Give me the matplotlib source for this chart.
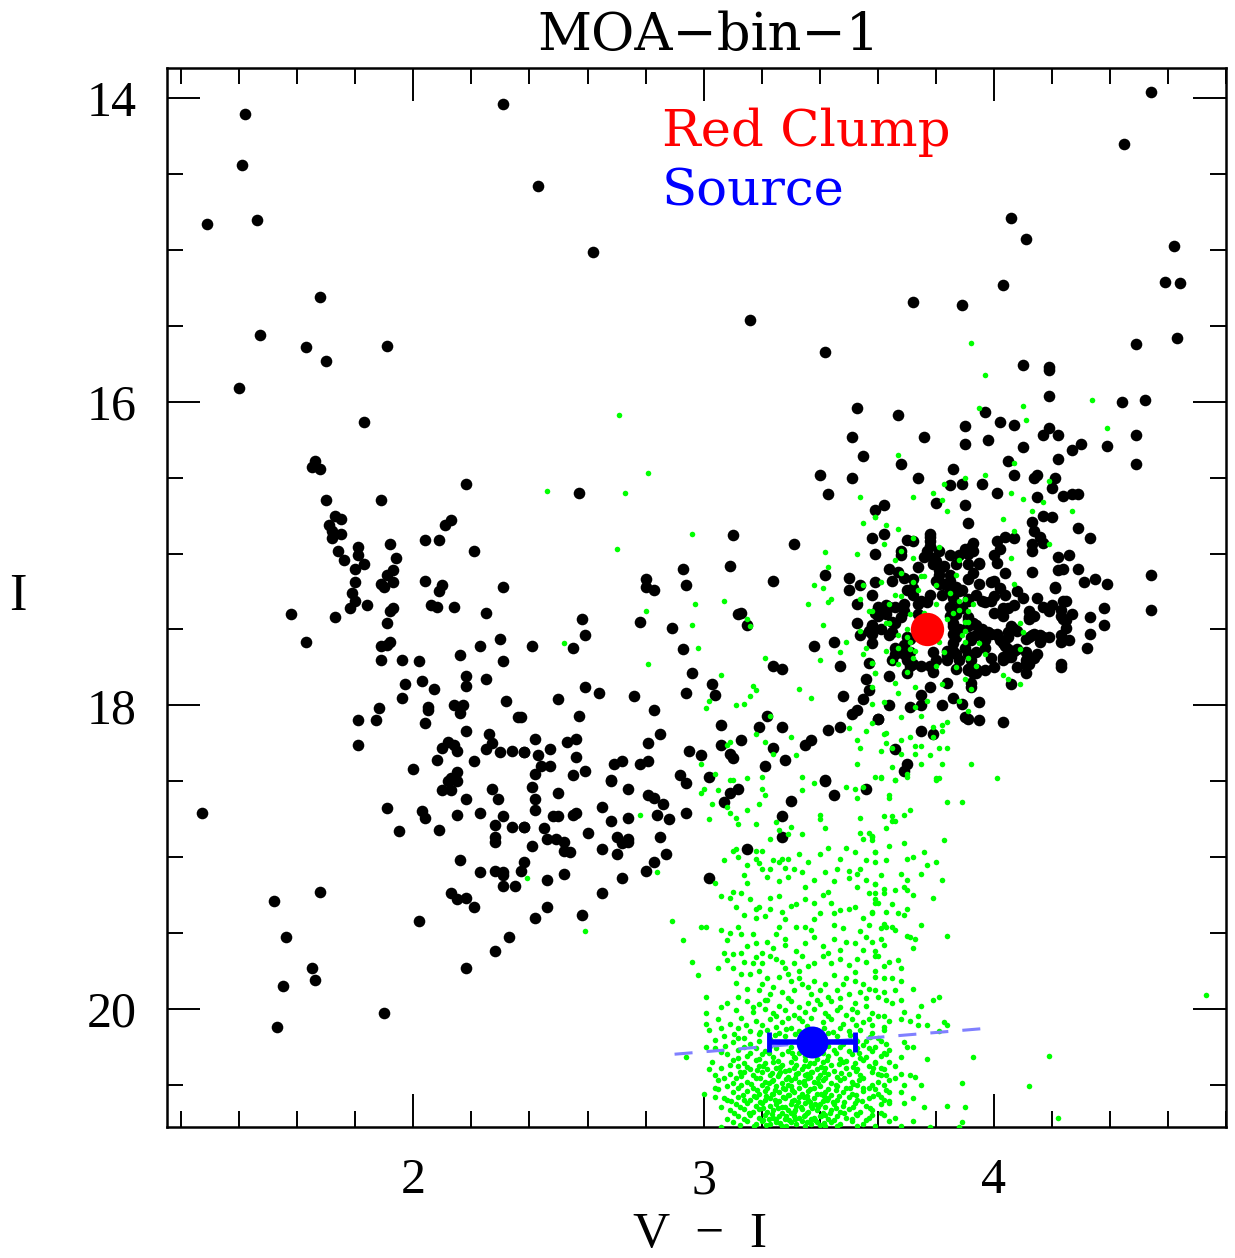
import matplotlib
matplotlib.use("Agg")
import matplotlib.pyplot as plt
from matplotlib.ticker import MultipleLocator
import numpy as np

# ---------------------------------------------------------------
# Ground-based field stars: (V-I, I)
# ---------------------------------------------------------------
field_top = [
    (1.42, 14.10), (2.31, 14.04), (1.41, 14.44), (1.29, 14.83), (1.46, 14.80), (1.68, 15.31),
    (1.47, 15.56), (1.63, 15.64), (1.70, 15.73), (1.91, 15.63), (1.40, 15.91), (1.83, 16.13),
    (2.43, 14.58), (2.62, 15.01), (3.16, 15.46), (3.42, 15.67), (3.53, 16.04),
    (4.54, 13.96), (4.45, 14.30), (4.06, 14.79), (4.11, 14.93), (4.62, 14.97), (4.59, 15.21),
    (4.64, 15.22), (4.03, 15.23), (3.72, 15.34), (3.89, 15.36), (4.63, 15.58), (4.49, 15.62),
    (4.10, 15.76), (4.19, 15.77), (4.19, 15.79), (4.19, 15.96), (4.44, 16.00), (4.52, 15.99),
    (3.67, 16.09), (3.97, 16.07), (4.02, 16.13), (4.07, 16.15), (3.90, 16.16), (4.19, 16.17),
]

field_disk = [
    (1.66, 16.39), (1.65, 16.43), (1.68, 16.44), (1.70, 16.65), (1.89, 16.65), (2.18, 16.54),
    (1.73, 16.75), (1.75, 16.77), (1.71, 16.81), (1.72, 16.85), (1.75, 16.87), (1.72, 16.90),
    (2.11, 16.81), (2.13, 16.78), (2.04, 16.91), (2.09, 16.91), (1.74, 16.98), (1.81, 16.96),
    (1.92, 16.94), (1.76, 17.04), (1.81, 17.01), (1.83, 17.07), (1.94, 17.03), (2.21, 16.98),
    (1.80, 17.10), (1.93, 17.11), (1.91, 17.14), (1.80, 17.19), (1.89, 17.20), (1.90, 17.22),
    (1.93, 17.19), (2.04, 17.18), (2.10, 17.21), (2.09, 17.25), (2.31, 17.22), (1.79, 17.26),
    (1.80, 17.31), (1.78, 17.36), (1.84, 17.34), (1.93, 17.36), (1.92, 17.38), (2.06, 17.34),
    (2.08, 17.35), (2.14, 17.35), (2.25, 17.39), (1.58, 17.40), (1.73, 17.42), (1.91, 17.46),
    (1.63, 17.58), (1.89, 17.61), (1.91, 17.60), (1.92, 17.58), (2.30, 17.56), (2.23, 17.61),
    (2.16, 17.67), (1.89, 17.70), (1.96, 17.70), (2.02, 17.71), (2.31, 17.71), (2.18, 17.81),
    (2.18, 17.87), (1.97, 17.86), (2.03, 17.84), (2.07, 17.89), (2.25, 17.83), (1.96, 17.95),
    (2.32, 17.97), (1.88, 18.02), (2.05, 18.01), (2.05, 18.03), (2.14, 18.00), (2.17, 18.00),
    (2.16, 18.05), (2.36, 18.08), (1.81, 18.10), (1.87, 18.10), (2.04, 18.12), (2.18, 18.17),
    (2.26, 18.19), (2.27, 18.25), (1.81, 18.26), (2.12, 18.24), (2.14, 18.26), (2.10, 18.28),
    (2.15, 18.30), (2.25, 18.29), (2.30, 18.31), (2.34, 18.30), (2.38, 18.31), (2.08, 18.36),
    (2.21, 18.37), (2.00, 18.42), (2.15, 18.44), (2.13, 18.48), (2.14, 18.48),
    (2.12, 18.50), (2.15, 18.50), (2.10, 18.56), (2.13, 18.56), (2.27, 18.55), (2.29, 18.62),
    (2.18, 18.62), (1.27, 18.71), (1.91, 18.68), (2.03, 18.70), (2.04, 18.74), (2.15, 18.72),
    (2.23, 18.71), (2.31, 18.73), (1.95, 18.83), (2.09, 18.82), (2.28, 18.79), (2.34, 18.80),
    (2.38, 18.80), (2.28, 18.87), (2.28, 18.90), (2.16, 19.02), (2.38, 19.03), (2.23, 19.10),
    (2.28, 19.09), (2.31, 19.10), (2.37, 19.09), (2.31, 19.12), (2.31, 19.19), (2.35, 19.19),
    (2.13, 19.24), (2.15, 19.28), (2.18, 19.27), (2.21, 19.33), (1.52, 19.29), (1.68, 19.23),
    (2.02, 19.42), (1.56, 19.53), (2.33, 19.53), (2.28, 19.62), (2.18, 19.73), (1.65, 19.73),
    (1.66, 19.81), (1.55, 19.85), (1.90, 20.03), (1.53, 20.12),
]

field_mid = [
    (3.51, 16.23), (3.55, 16.36), (3.40, 16.48), (3.51, 16.50), (3.43, 16.61), (2.57, 16.60),
    (3.59, 16.71), (3.10, 16.88), (3.31, 16.94), (3.58, 16.90), (3.59, 17.00), (3.09, 17.08),
    (2.93, 17.10), (2.80, 17.17), (2.80, 17.22), (2.83, 17.24), (2.94, 17.21), (3.24, 17.18),
    (3.42, 17.14), (3.50, 17.16), (3.50, 17.24), (3.54, 17.21), (3.53, 17.33), (3.59, 17.39),
    (3.13, 17.39), (3.12, 17.40), (3.15, 17.47), (2.58, 17.43), (2.78, 17.45), (2.89, 17.49),
    (3.53, 17.46), (3.58, 17.48), (3.54, 17.54), (3.58, 17.53), (2.59, 17.54), (2.41, 17.61),
    (2.55, 17.62), (2.93, 17.63), (3.38, 17.61), (3.45, 17.58), (3.47, 17.74), (3.24, 17.74),
    (3.27, 17.76), (3.57, 17.72), (3.56, 17.83), (2.96, 17.79), (3.03, 17.86), (3.04, 17.93),
    (2.94, 17.92), (2.59, 17.88), (2.64, 17.92), (2.76, 17.94), (2.50, 17.96), (3.48, 17.94),
    (3.55, 17.96), (3.57, 17.90), (2.83, 18.03), (2.57, 18.07), (2.37, 18.08), (3.51, 18.06),
    (3.53, 18.03), (3.60, 18.09), (3.22, 18.07), (3.06, 18.13), (3.19, 18.14), (3.27, 18.14),
    (3.43, 18.16), (3.47, 18.14), (2.85, 18.19), (2.42, 18.22), (2.53, 18.24), (2.56, 18.22),
    (2.81, 18.25), (3.13, 18.23), (3.06, 18.26), (3.24, 18.28), (3.35, 18.26), (3.37, 18.23),
    (2.38, 18.31), (2.47, 18.29), (2.43, 18.33), (2.95, 18.30), (2.99, 18.33), (3.09, 18.32),
    (3.10, 18.35), (3.28, 18.36), (2.56, 18.34), (2.69, 18.39), (2.72, 18.37), (2.78, 18.39),
    (2.81, 18.37), (2.47, 18.40), (2.44, 18.40), (3.21, 18.40), (2.59, 18.43), (2.42, 18.45),
    (2.55, 18.46), (2.68, 18.49), (2.92, 18.46), (3.02, 18.47), (3.42, 18.49),
    (2.94, 18.51), (2.41, 18.54), (2.50, 18.58), (2.68, 18.50), (2.74, 18.55), (2.42, 18.62),
    (2.42, 18.69), (2.65, 18.67), (2.81, 18.59), (2.83, 18.61), (2.86, 18.65), (3.09, 18.58),
    (3.12, 18.55), (3.07, 18.64), (3.30, 18.63), (3.42, 18.50), (3.45, 18.59), (3.56, 18.55),
    (2.48, 18.73), (2.50, 18.73), (2.55, 18.72), (2.56, 18.71), (2.68, 18.76), (2.74, 18.74),
    (2.84, 18.72), (2.88, 18.75), (2.94, 18.71), (2.38, 18.80), (2.45, 18.81), (3.27, 18.73),
    (3.27, 18.87), (2.60, 18.84), (2.46, 18.88), (2.49, 18.88), (2.52, 18.90), (2.70, 18.87),
    (2.74, 18.88), (2.72, 18.91), (2.74, 18.90), (2.85, 18.87), (2.41, 18.93), (2.52, 18.96),
    (2.54, 18.97), (2.65, 18.95), (2.70, 18.98), (2.87, 18.98), (3.15, 18.95), (2.83, 19.03),
    (2.80, 19.09), (2.52, 19.11), (2.72, 19.14), (3.02, 19.14), (2.46, 19.15), (2.65, 19.24),
    (2.46, 19.33), (2.42, 19.40), (2.58, 19.38),
]

field_clump = [
    (4.17, 16.22), (4.22, 16.22), (4.49, 16.22), (3.76, 16.23), (3.90, 16.28), (3.98, 16.25),
    (4.10, 16.30), (4.30, 16.28), (4.27, 16.32), (4.39, 16.29), (4.49, 16.41), (4.22, 16.38),
    (4.05, 16.39), (3.68, 16.41), (3.74, 16.50), (3.86, 16.44), (4.07, 16.48), (4.14, 16.50),
    (4.15, 16.48), (4.21, 16.50), (3.85, 16.55), (3.89, 16.54), (3.96, 16.54), (4.20, 16.57),
    (4.01, 16.60), (4.24, 16.62), (4.27, 16.61), (4.29, 16.61), (4.15, 16.63), (3.80, 16.67),
    (3.90, 16.68), (3.62, 16.68), (4.17, 16.75), (4.20, 16.76), (4.13, 16.79), (3.91, 16.80),
    (4.29, 16.83), (4.33, 16.90), (4.14, 16.85), (4.16, 16.89), (4.17, 16.93), (4.13, 16.94),
    (4.13, 16.98), (3.62, 16.87), (3.70, 16.91), (3.72, 16.92), (3.78, 16.89), (3.78, 16.95),
    (3.77, 16.98), (3.93, 16.93), (3.92, 16.96), (3.90, 16.97), (4.01, 16.92), (4.04, 16.89),
    (4.07, 16.90), (4.02, 16.97), (3.68, 16.98), (3.68, 17.01), (3.76, 17.02), (3.79, 17.03),
    (3.85, 17.01), (3.88, 17.01), (4.00, 17.01), (4.22, 17.02), (4.26, 17.01), (3.79, 17.07),
    (3.83, 17.08), (3.87, 17.07), (3.91, 17.07), (3.95, 17.07), (4.01, 17.06), (4.04, 17.13),
    (4.13, 17.12), (4.22, 17.11), (4.24, 17.10), (4.29, 17.10), (4.54, 17.14), (3.64, 17.10),
    (3.67, 17.12), (3.69, 17.16), (3.72, 17.17), (3.59, 17.19), (3.81, 17.14), (3.81, 17.20),
    (3.85, 17.18), (3.99, 17.19), (4.02, 17.23), (4.04, 17.27), (4.08, 17.25), (4.21, 17.23),
    (4.31, 17.19), (4.35, 17.17), (4.39, 17.20), (3.72, 17.23), (3.72, 17.27), (3.69, 17.33),
    (3.74, 17.33), (3.77, 17.32), (3.85, 17.23), (3.86, 17.29), (3.88, 17.25), (3.91, 17.30),
    (3.97, 17.32), (4.00, 17.28), (4.00, 17.39), (4.03, 17.36), (4.07, 17.34), (4.03, 17.41),
    (4.17, 17.35), (4.20, 17.34), (4.19, 17.38), (4.24, 17.31), (4.23, 17.37), (4.27, 17.40),
    (4.25, 17.44), (4.25, 17.49), (4.33, 17.42), (4.38, 17.36), (4.38, 17.47), (4.33, 17.53),
    (4.54, 17.37), (4.12, 17.42), (4.14, 17.41), (3.63, 17.34), (3.64, 17.35), (3.66, 17.46),
    (3.68, 17.42), (3.74, 17.40), (3.70, 17.55), (3.66, 17.62), (3.69, 17.60), (3.71, 17.56),
    (3.85, 17.41), (3.86, 17.48), (3.88, 17.35), (3.91, 17.44), (3.94, 17.47), (3.95, 17.53),
    (3.98, 17.52), (4.01, 17.53), (4.05, 17.52), (4.07, 17.50), (4.02, 17.57), (4.04, 17.61),
    (4.07, 17.64), (4.05, 17.68), (4.03, 17.70), (4.11, 17.56), (4.13, 17.54), (4.16, 17.54),
    (4.19, 17.55), (4.16, 17.58), (4.11, 17.65), (4.14, 17.69), (4.11, 17.73), (4.23, 17.58),
    (4.26, 17.57), (4.23, 17.73), (4.23, 17.75), (4.32, 17.62), (4.06, 17.86), (4.03, 18.11),
    (3.97, 17.62), (3.94, 17.65), (3.92, 17.57), (3.88, 17.50), (3.87, 17.55), (3.86, 17.64),
    (3.90, 17.62), (3.91, 17.66), (3.92, 17.75), (3.93, 17.79), (3.91, 17.76), (3.92, 17.85),
    (3.87, 17.76), (3.84, 17.70), (3.84, 17.64), (3.79, 17.65), (3.79, 17.78), (3.75, 17.74),
    (3.70, 17.70), (3.71, 17.74), (3.64, 17.81), (3.78, 17.88), (3.75, 17.93), (3.64, 18.00),
    (3.71, 18.01), (3.82, 18.00), (3.95, 17.98), (3.91, 18.09), (3.60, 18.09), (3.75, 18.17),
    (3.79, 18.19), (3.66, 18.29), (3.70, 18.39), (3.69, 18.43),
    (3.80, 17.05), (3.81, 17.11), (3.80, 17.18), (3.83, 17.20), (3.82, 17.27), (3.78, 17.27),
    (3.75, 17.31), (3.69, 17.38), (3.66, 17.35), (3.60, 17.35), (3.60, 17.41), (3.58, 17.47),
    (3.65, 17.45), (3.65, 17.52), (3.69, 17.66), (3.72, 17.73), (3.71, 17.65), (3.78, 17.74),
    (3.86, 17.53), (3.86, 17.59), (3.87, 17.66), (3.88, 17.70), (3.86, 17.46), (3.87, 17.40),
    (3.85, 17.35), (3.89, 17.36), (3.91, 17.31), (3.91, 17.42), (3.91, 17.48), (3.92, 17.55),
    (3.93, 17.46), (3.94, 17.54), (3.96, 17.50), (3.92, 17.70), (3.91, 17.77), (3.94, 17.76),
    (3.97, 17.57), (3.99, 17.53), (4.01, 17.54), (4.03, 17.59), (4.03, 17.68), (4.05, 17.55),
    (4.05, 17.63), (4.08, 17.63), (4.06, 17.68), (4.08, 17.51), (4.12, 17.55), (4.12, 17.43),
    (4.06, 17.48), (4.00, 17.18), (3.99, 17.31), (3.96, 17.31), (3.94, 17.27), (3.95, 17.20),
    (3.93, 17.13), (3.91, 17.17), (3.89, 17.24), (3.87, 17.22), (3.85, 17.25), (3.85, 17.14),
    (3.91, 17.00), (3.93, 16.98), (3.95, 17.06), (3.81, 16.98), (3.78, 16.92), (3.78, 16.87),
    (3.65, 17.18), (3.70, 17.24), (3.74, 17.09), (3.58, 17.27), (3.63, 17.40), (3.61, 17.50),
    (3.57, 17.51), (3.58, 17.59), (3.64, 17.54), (3.66, 17.66), (3.65, 17.70), (3.70, 17.79),
    (3.75, 18.00), (3.80, 17.70), (3.84, 17.67), (3.84, 17.85), (3.86, 17.95), (3.89, 17.99),
    (3.90, 18.08), (3.92, 17.88), (3.94, 17.79), (3.99, 17.69), (3.97, 17.77), (4.00, 17.75),
    (3.95, 18.10), (4.08, 17.75), (4.11, 17.70), (4.15, 17.66), (4.14, 17.53), (4.17, 17.55),
    (4.23, 17.54), (4.24, 17.43), (4.23, 17.41), (4.25, 17.31), (4.21, 17.22), (4.12, 17.38),
    (4.05, 17.36), (4.10, 17.29), (4.15, 17.29), (4.12, 17.73), (4.11, 17.79),
]

# ---------------------------------------------------------------
# HST comparison CMD, shifted to this field's clump: (V-I, I)
# ---------------------------------------------------------------
hst_upper = [
    (2.71, 16.09), (3.92, 15.61), (3.97, 15.82), (3.95, 16.04), (4.10, 16.03), (4.11, 16.12),
    (4.34, 15.99), (4.39, 16.17), (2.46, 16.59), (2.73, 16.60), (2.81, 16.47), (2.96, 16.87),
    (2.70, 16.97), (3.42, 16.99), (3.43, 17.09), (3.54, 16.63), (3.59, 16.76), (3.55, 16.80),
    (3.53, 17.00), (3.38, 17.21), (3.41, 17.23), (3.43, 17.32), (3.44, 17.30), (3.36, 17.33),
    (3.41, 17.47), (3.55, 17.21), (3.54, 17.30), (3.57, 17.38), (2.97, 17.33), (3.07, 17.31),
    (2.80, 17.38), (2.96, 17.47), (3.15, 17.43), (3.16, 17.48), (2.52, 17.59), (2.98, 17.62),
    (2.81, 17.73), (3.21, 17.69), (3.06, 17.80), (3.17, 17.87), (3.18, 17.90), (3.16, 17.94),
    (3.14, 17.99), (3.11, 18.00), (3.02, 17.97), (3.01, 18.02), (3.33, 17.89), (3.37, 17.95),
    (3.40, 17.70), (3.47, 17.65), (3.49, 17.58), (3.54, 17.51), (3.56, 17.62), (3.55, 17.66),
    (3.58, 17.72), (3.59, 17.79), (3.58, 17.88), (3.58, 17.99), (3.58, 18.12), (3.56, 18.17),
    (3.50, 18.15), (3.53, 18.23), (3.54, 18.28), (3.53, 18.39), (3.59, 18.47), (3.23, 18.07),
    (3.18, 18.19), (3.21, 18.24), (3.30, 18.21), (3.24, 18.32), (3.32, 18.33), (3.09, 18.24),
    (3.08, 18.26), (2.99, 18.39), (3.04, 18.45), (3.10, 18.49), (3.15, 18.48), (3.20, 18.47),
    (3.34, 18.47),
]

hst_clump = [
    (3.67, 16.35), (4.07, 16.40), (3.97, 16.48), (3.90, 16.50), (3.83, 16.54), (3.79, 16.60),
    (3.82, 16.65), (3.72, 16.63), (3.84, 16.72), (4.06, 16.60), (4.10, 16.64), (4.17, 16.66),
    (4.19, 16.52), (4.13, 16.72), (4.03, 16.77), (4.27, 16.72), (3.59, 16.76), (3.63, 16.81),
    (3.67, 16.84), (3.72, 16.90), (3.62, 16.94), (3.68, 16.98), (3.72, 17.03), (3.81, 16.96),
    (4.07, 16.85), (4.19, 16.94), (4.06, 17.03), (3.88, 17.04), (3.87, 17.14), (3.66, 17.04),
    (3.68, 17.13), (3.75, 17.15), (3.76, 17.15), (3.61, 17.19), (3.72, 17.19), (3.80, 17.21),
    (3.74, 17.24), (3.85, 17.26), (3.66, 17.27), (3.68, 17.28), (3.64, 17.33), (3.80, 17.33),
    (3.88, 17.31), (3.90, 17.30), (3.93, 17.33), (3.86, 17.39), (3.88, 17.37), (3.91, 17.38),
    (3.71, 17.40), (3.58, 17.38), (3.63, 17.46), (3.64, 17.46), (3.76, 17.39), (3.84, 17.43),
    (3.90, 17.45), (3.91, 17.45), (3.70, 17.50), (3.67, 17.54), (3.70, 17.55), (3.71, 17.58),
    (3.89, 17.54), (3.90, 17.51), (3.81, 17.58), (3.90, 17.58), (3.67, 17.62), (3.71, 17.63),
    (3.73, 17.64), (3.63, 17.64), (3.95, 17.59), (3.97, 17.66), (3.83, 17.65), (3.72, 17.69),
    (3.58, 17.72), (3.65, 17.71), (3.67, 17.73), (3.80, 17.74), (3.87, 17.75), (3.91, 17.69),
    (3.94, 17.74), (3.70, 17.78), (3.59, 17.79), (4.03, 17.80), (4.05, 17.83), (4.09, 17.86),
    (3.90, 17.83), (3.92, 17.89), (3.73, 17.88), (3.82, 17.86), (3.66, 17.85), (3.67, 17.92),
    (3.62, 17.98), (3.77, 17.97), (3.88, 17.97), (3.73, 18.01), (3.91, 18.04), (3.75, 18.07),
    (3.68, 18.08), (3.63, 18.18), (3.62, 18.19), (3.84, 18.11), (3.82, 18.13), (3.79, 18.14),
    (3.82, 18.17), (3.71, 18.21), (3.68, 18.23), (3.79, 18.21), (3.63, 18.25), (3.65, 18.28),
    (3.73, 18.27), (3.75, 18.27), (3.81, 18.28), (3.84, 18.28), (3.61, 18.30), (3.68, 18.32),
    (3.73, 18.32), (3.78, 18.33), (3.82, 18.39), (3.75, 18.39), (3.92, 18.39), (3.65, 18.41),
    (3.70, 18.45), (3.61, 18.47), (3.66, 18.49), (3.80, 18.48), (4.01, 18.48), (4.07, 17.20),
    (4.09, 17.46), (4.10, 17.52), (4.09, 17.63),
]

hst_turnoff = [
    (3.09, 18.49), (3.00, 18.55), (2.99, 18.58), (3.05, 18.56), (3.20, 18.55), (3.21, 18.59),
    (3.38, 18.51), (3.34, 18.56), (3.49, 18.54), (3.52, 18.55), (3.53, 18.61), (3.55, 18.54),
    (3.03, 18.65), (3.08, 18.67), (3.09, 18.71), (3.11, 18.74), (3.12, 18.78), (3.15, 18.69),
    (3.19, 18.65), (3.18, 18.78), (3.02, 18.75), (2.78, 18.72), (3.40, 18.72), (3.40, 18.75),
    (3.42, 18.81), (3.54, 18.74), (3.54, 18.84), (3.57, 18.84), (3.58, 18.87), (3.55, 18.88),
    (3.25, 18.77), (3.26, 18.82), (3.30, 18.80), (3.29, 18.85), (3.34, 18.85), (3.23, 18.88),
    (3.43, 18.94), (3.49, 18.94), (3.59, 18.97), (3.56, 19.02), (3.10, 18.96), (3.11, 18.95),
    (3.07, 19.02), (3.18, 18.96), (3.18, 19.01), (3.19, 19.04), (3.20, 18.96), (3.24, 19.02),
    (3.26, 19.03), (3.27, 19.01), (3.29, 19.01), (3.33, 18.98), (3.20, 19.08), (3.23, 19.08),
    (3.28, 19.07), (3.31, 19.08), (3.22, 19.13), (3.26, 19.16), (3.29, 19.13), (3.38, 19.15),
    (3.42, 19.10), (3.46, 19.08), (3.50, 19.09), (3.50, 19.14), (3.53, 19.11), (3.54, 19.08),
    (3.56, 19.15), (3.59, 19.18), (3.59, 19.24), (3.57, 19.24), (3.04, 19.17), (2.84, 19.10),
    (2.39, 19.14), (2.59, 19.49), (2.89, 19.42), (2.93, 19.55), (2.96, 19.69), (2.98, 19.78),
    (2.99, 19.46), (3.01, 19.46), (3.01, 19.92),
    (3.06, 19.26), (3.09, 19.27), (3.10, 19.23), (3.13, 19.24), (3.15, 19.17), (3.16, 19.28),
    (3.18, 19.34), (3.19, 19.33), (3.18, 19.40), (3.21, 19.39), (3.23, 19.34), (3.23, 19.27),
    (3.26, 19.26), (3.30, 19.32), (3.32, 19.31), (3.35, 19.20), (3.35, 19.28), (3.38, 19.30),
    (3.41, 19.25), (3.43, 19.23), (3.40, 19.37), (3.45, 19.37), (3.47, 19.35), (3.50, 19.34),
    (3.52, 19.33), (3.58, 19.37), (3.59, 19.30), (3.28, 19.41), (3.26, 19.46), (3.32, 19.46),
    (3.35, 19.46), (3.37, 19.48), (3.45, 19.45), (3.48, 19.47), (3.57, 19.45), (3.54, 19.49),
    (3.06, 19.48), (3.09, 19.50), (3.12, 19.46), (3.13, 19.51), (3.17, 19.51), (3.18, 19.57),
    (3.22, 19.56), (3.25, 19.51), (3.28, 19.54), (3.28, 19.58), (3.35, 19.57), (3.38, 19.53),
    (3.45, 19.54), (3.49, 19.56), (3.52, 19.57), (3.55, 19.61), (3.58, 19.56), (3.07, 19.63),
    (3.10, 19.64), (3.13, 19.63), (3.14, 19.69), (3.17, 19.70), (3.20, 19.63), (3.20, 19.70),
    (3.23, 19.65), (3.25, 19.67), (3.28, 19.73), (3.31, 19.70), (3.33, 19.75), (3.34, 19.65),
    (3.38, 19.70), (3.41, 19.65), (3.43, 19.63), (3.47, 19.67), (3.50, 19.71), (3.53, 19.67),
    (3.56, 19.69), (3.59, 19.65), (3.05, 19.73), (3.10, 19.73), (3.13, 19.77), (3.16, 19.77),
    (3.19, 19.75), (3.22, 19.80), (3.26, 19.79), (3.30, 19.82), (3.33, 19.80), (3.38, 19.82),
    (3.42, 19.84), (3.45, 19.78), (3.49, 19.80), (3.52, 19.82), (3.55, 19.84), (3.59, 19.79),
    (3.15, 19.87), (3.19, 19.88), (3.23, 19.90), (3.24, 19.86), (3.27, 19.89), (3.31, 19.88),
    (3.34, 19.84), (3.37, 19.90), (3.40, 19.88), (3.43, 19.92), (3.46, 19.88), (3.50, 19.90),
    (3.54, 19.89), (3.57, 19.87), (3.60, 19.92),
    (3.12, 19.00), (3.15, 19.05), (3.36, 19.03), (3.40, 18.98), (3.47, 19.01), (3.52, 18.97),
    (3.14, 19.12), (3.34, 19.10), (3.45, 19.16), (3.53, 19.20), (3.11, 19.33), (3.14, 19.38),
    (3.27, 19.36), (3.38, 19.41), (3.44, 19.30), (3.55, 19.40), (3.08, 19.55), (3.15, 19.59),
    (3.24, 19.60), (3.32, 19.62), (3.41, 19.59), (3.47, 19.61), (3.56, 19.53), (3.08, 19.68),
    (3.18, 19.66), (3.27, 19.69), (3.36, 19.72), (3.44, 19.70), (3.52, 19.76), (3.11, 19.83),
    (3.20, 19.84), (3.29, 19.77), (3.36, 19.86), (3.48, 19.84), (3.56, 19.93), (3.12, 19.92),
    (3.21, 19.94), (3.29, 19.93), (3.39, 19.94), (3.47, 19.93), (3.06, 19.99), (3.17, 19.99),
    (3.25, 20.05), (3.33, 20.06), (3.43, 20.05), (3.51, 20.00), (3.57, 20.07),
]

hst_red_edge = [
    (3.61, 18.48), (3.66, 18.49), (3.70, 18.47), (3.80, 18.49), (3.81, 18.48), (3.64, 18.59),
    (3.64, 18.61), (3.84, 18.64), (3.89, 18.64), (3.71, 18.69), (3.69, 18.72), (3.62, 18.73),
    (3.65, 18.73), (3.65, 18.76), (3.66, 18.76), (3.63, 18.81), (3.58, 18.86), (3.58, 18.89),
    (3.83, 18.89), (3.69, 18.91), (3.64, 18.93), (3.59, 18.97), (3.76, 18.97), (3.63, 19.02),
    (3.59, 19.03), (3.70, 19.01), (3.72, 19.00), (3.77, 19.05), (3.80, 19.03), (3.61, 19.12),
    (3.68, 19.11), (3.75, 19.11), (3.70, 19.15), (3.82, 19.15), (3.59, 19.18), (3.62, 19.21),
    (3.62, 19.24), (3.66, 19.22), (3.69, 19.20), (3.70, 19.22), (3.72, 19.25), (3.79, 19.27),
    (3.59, 19.28), (3.60, 19.30), (3.65, 19.31), (3.70, 19.34), (3.67, 19.37), (3.69, 19.38),
    (3.63, 19.36), (3.58, 19.36), (3.62, 19.44), (3.61, 19.47), (3.63, 19.46), (3.65, 19.46),
    (3.66, 19.48), (3.75, 19.45), (3.84, 19.52), (3.70, 19.52), (3.71, 19.53), (3.73, 19.54),
    (3.61, 19.54), (3.62, 19.58), (3.72, 19.60), (3.59, 19.62), (3.60, 19.65), (3.64, 19.69),
    (3.67, 19.68), (3.68, 19.73), (3.62, 19.72), (3.59, 19.75), (3.62, 19.80), (3.65, 19.80),
    (3.68, 19.82), (3.62, 19.89), (3.66, 19.88), (3.72, 19.87), (3.59, 19.88), (3.63, 19.94),
    (3.68, 19.94), (3.79, 19.94), (3.81, 19.92), (3.65, 19.96), (3.75, 19.98), (3.60, 20.05),
    (3.62, 20.05), (3.69, 20.02), (3.68, 20.07), (3.74, 20.05), (3.58, 20.11), (3.62, 20.12),
    (3.64, 20.08), (3.71, 20.08), (3.74, 20.11), (3.77, 20.11), (3.83, 20.09), (3.84, 20.11),
    (3.81, 20.15), (3.61, 20.21), (3.69, 20.22), (3.72, 20.25), (3.70, 20.25), (3.59, 20.25),
    (3.62, 20.29), (3.63, 20.30), (3.68, 20.32), (3.77, 20.33), (3.93, 20.32), (4.19, 20.31),
    (3.59, 20.35), (3.61, 20.39), (3.66, 20.38), (3.68, 20.43), (3.71, 20.44), (3.73, 20.45),
    (3.66, 20.46), (3.61, 20.44), (3.63, 20.44), (3.75, 20.50), (3.69, 20.50), (3.62, 20.50),
    (3.89, 20.49), (4.12, 20.51), (3.59, 20.53), (3.64, 20.55), (3.68, 20.55), (3.61, 20.58),
    (3.62, 20.60), (3.64, 20.61), (3.69, 20.62), (3.72, 20.59), (3.84, 20.64), (3.76, 20.65),
    (3.90, 20.65), (3.58, 20.70), (3.62, 20.70), (3.66, 20.72), (3.72, 20.74), (3.89, 20.75),
    (3.68, 20.77), (3.78, 20.78), (3.88, 20.78), (4.22, 20.72), (4.73, 19.91),
]

hst_faint = [
    (3.08, 19.96), (3.15, 19.95), (3.19, 19.97), (3.22, 19.94), (3.26, 19.98), (3.30, 19.95),
    (3.33, 19.99), (3.36, 19.96), (3.40, 19.97), (3.44, 19.95), (3.47, 19.99), (3.52, 19.96),
    (3.56, 19.98), (3.11, 20.01), (3.17, 20.02), (3.21, 20.00), (3.24, 20.03), (3.28, 20.01),
    (3.31, 20.04), (3.35, 20.02), (3.38, 20.00), (3.42, 20.03), (3.46, 20.01), (3.49, 20.04),
    (3.53, 20.02), (3.58, 20.03), (3.01, 20.03), (3.05, 20.07), (3.13, 20.06), (3.18, 20.08),
    (3.23, 20.07), (3.27, 20.09), (3.29, 20.06), (3.34, 20.08), (3.37, 20.06), (3.41, 20.09),
    (3.44, 20.07), (3.48, 20.10), (3.51, 20.07), (3.55, 20.09), (3.20, 20.11), (3.25, 20.12),
    (3.09, 20.10), (3.01, 20.10), (3.01, 20.25), (2.94, 20.32),
    (3.02, 20.14), (3.12, 20.13), (3.16, 20.15), (3.22, 20.14), (3.26, 20.16), (3.30, 20.13),
    (3.33, 20.15), (3.39, 20.14), (3.43, 20.16), (3.47, 20.13), (3.50, 20.15), (3.54, 20.14),
    (3.58, 20.16), (3.07, 20.18), (3.14, 20.19), (3.19, 20.17), (3.23, 20.20), (3.28, 20.18),
    (3.46, 20.18), (3.52, 20.19), (3.56, 20.21), (3.60, 20.19), (3.10, 20.22), (3.16, 20.23),
    (3.48, 20.23), (3.55, 20.24), (3.04, 20.26), (3.12, 20.27), (3.18, 20.26), (3.21, 20.28),
    (3.25, 20.26), (3.29, 20.28), (3.33, 20.29), (3.37, 20.27), (3.41, 20.29), (3.45, 20.27),
    (3.50, 20.28), (3.53, 20.26), (3.58, 20.28), (3.08, 20.30), (3.15, 20.31), (3.20, 20.30),
    (3.24, 20.32), (3.27, 20.30), (3.31, 20.32), (3.35, 20.31), (3.39, 20.33), (3.43, 20.31),
    (3.47, 20.33), (3.51, 20.30), (3.56, 20.32), (3.61, 20.31),
    (3.03, 20.35), (3.10, 20.34), (3.14, 20.36), (3.18, 20.34), (3.21, 20.36), (3.24, 20.35),
    (3.27, 20.37), (3.30, 20.35), (3.32, 20.37), (3.35, 20.34), (3.38, 20.36), (3.41, 20.35),
    (3.44, 20.37), (3.48, 20.35), (3.52, 20.36), (3.55, 20.34), (3.59, 20.36), (3.06, 20.39),
    (3.12, 20.38), (3.16, 20.40), (3.19, 20.38), (3.22, 20.40), (3.25, 20.39), (3.28, 20.41),
    (3.31, 20.39), (3.34, 20.40), (3.36, 20.38), (3.39, 20.40), (3.42, 20.39), (3.45, 20.41),
    (3.49, 20.39), (3.53, 20.40), (3.57, 20.38), (3.62, 20.40), (3.09, 20.43), (3.14, 20.42),
    (3.17, 20.44), (3.20, 20.42), (3.23, 20.44), (3.26, 20.43), (3.29, 20.45), (3.32, 20.43),
    (3.35, 20.44), (3.37, 20.42), (3.40, 20.44), (3.43, 20.43), (3.46, 20.45), (3.50, 20.43),
    (3.54, 20.44), (3.58, 20.42), (3.05, 20.47), (3.11, 20.46), (3.15, 20.48), (3.18, 20.46),
    (3.21, 20.48), (3.24, 20.47), (3.27, 20.49), (3.30, 20.47), (3.33, 20.48), (3.36, 20.46),
    (3.38, 20.48), (3.41, 20.47), (3.44, 20.49), (3.47, 20.47), (3.51, 20.48), (3.55, 20.46),
    (3.60, 20.48), (3.04, 20.44), (3.00, 20.56), (3.04, 20.52), (3.08, 20.60), (3.06, 20.78),
    (3.08, 20.51), (3.13, 20.50), (3.17, 20.52), (3.20, 20.50), (3.22, 20.52), (3.25, 20.51),
    (3.28, 20.53), (3.30, 20.51), (3.33, 20.52), (3.35, 20.50), (3.38, 20.52), (3.40, 20.51),
    (3.43, 20.53), (3.46, 20.51), (3.49, 20.52), (3.53, 20.50), (3.57, 20.52), (3.10, 20.55),
    (3.15, 20.54), (3.19, 20.56), (3.21, 20.54), (3.24, 20.56), (3.26, 20.55), (3.29, 20.57),
    (3.31, 20.55), (3.34, 20.56), (3.36, 20.54), (3.39, 20.56), (3.42, 20.55), (3.44, 20.57),
    (3.48, 20.55), (3.51, 20.56), (3.55, 20.54), (3.60, 20.56), (3.07, 20.59), (3.12, 20.58),
    (3.16, 20.60), (3.18, 20.58), (3.21, 20.60), (3.23, 20.59), (3.26, 20.61), (3.28, 20.59),
    (3.31, 20.60), (3.33, 20.58), (3.36, 20.60), (3.38, 20.59), (3.41, 20.61), (3.43, 20.59),
    (3.46, 20.60), (3.50, 20.58), (3.53, 20.60), (3.57, 20.59), (3.11, 20.63), (3.15, 20.62),
    (3.18, 20.64), (3.20, 20.62), (3.23, 20.64), (3.25, 20.63), (3.28, 20.65), (3.30, 20.63),
    (3.32, 20.64), (3.35, 20.62), (3.37, 20.64), (3.40, 20.63), (3.42, 20.65), (3.45, 20.63),
    (3.48, 20.64), (3.52, 20.62), (3.56, 20.64), (3.61, 20.63), (3.09, 20.67), (3.14, 20.66),
    (3.17, 20.68), (3.19, 20.66), (3.22, 20.68), (3.24, 20.67), (3.27, 20.69), (3.29, 20.67),
    (3.31, 20.68), (3.34, 20.66), (3.36, 20.68), (3.39, 20.67), (3.41, 20.69), (3.44, 20.67),
    (3.47, 20.68), (3.50, 20.66), (3.54, 20.68), (3.58, 20.67), (3.12, 20.71), (3.16, 20.70),
    (3.19, 20.72), (3.21, 20.70), (3.24, 20.72), (3.26, 20.71), (3.28, 20.73), (3.31, 20.71),
    (3.33, 20.72), (3.35, 20.70), (3.38, 20.72), (3.40, 20.71), (3.43, 20.73), (3.46, 20.71),
    (3.49, 20.72), (3.53, 20.70), (3.57, 20.72), (3.10, 20.75), (3.15, 20.74), (3.18, 20.76),
    (3.20, 20.74), (3.23, 20.76), (3.25, 20.75), (3.27, 20.77), (3.30, 20.75), (3.32, 20.76),
    (3.34, 20.74), (3.37, 20.76), (3.39, 20.75), (3.42, 20.77), (3.44, 20.75), (3.47, 20.76),
    (3.51, 20.74), (3.55, 20.76),
    (3.215, 20.575), (3.245, 20.535), (3.275, 20.585), (3.305, 20.535), (3.325, 20.615),
    (3.355, 20.575), (3.385, 20.625), (3.415, 20.575), (3.445, 20.615), (3.255, 20.655),
    (3.285, 20.705), (3.315, 20.665), (3.345, 20.705), (3.375, 20.655), (3.405, 20.705),
    (3.435, 20.685), (3.225, 20.725), (3.265, 20.755), (3.295, 20.735), (3.355, 20.745),
    (3.385, 20.735), (3.415, 20.755), (3.235, 20.475), (3.285, 20.465), (3.345, 20.475),
    (3.395, 20.455), (3.265, 20.415), (3.325, 20.425), (3.375, 20.415),
]

hst_faint_core = [
    (3.06, 20.125), (3.145, 20.105), (3.285, 20.135), (3.355, 20.115), (3.415, 20.125),
    (3.525, 20.105), (3.62, 20.14), (3.105, 20.165), (3.195, 20.155), (3.245, 20.175),
    (3.315, 20.165), (3.365, 20.175), (3.445, 20.155), (3.505, 20.175), (3.575, 20.185),
    (3.04, 20.205), (3.12, 20.195), (3.19, 20.215), (3.53, 20.215), (3.63, 20.23),
    (3.075, 20.245), (3.14, 20.255), (3.23, 20.245), (3.30, 20.255), (3.35, 20.25),
    (3.43, 20.245), (3.47, 20.255), (3.57, 20.26), (3.64, 20.27), (3.06, 20.285),
    (3.16, 20.29), (3.225, 20.295), (3.305, 20.29), (3.39, 20.295), (3.455, 20.29),
    (3.535, 20.295), (3.12, 20.325), (3.19, 20.33), (3.255, 20.345), (3.315, 20.325),
    (3.365, 20.355), (3.425, 20.335), (3.49, 20.345), (3.54, 20.325), (3.64, 20.35),
    (3.09, 20.37), (3.15, 20.385), (3.205, 20.375), (3.265, 20.385), (3.345, 20.375),
    (3.405, 20.385), (3.465, 20.365), (3.515, 20.385), (3.585, 20.39), (3.02, 20.40),
    (3.125, 20.415), (3.185, 20.405), (3.235, 20.425), (3.295, 20.405), (3.355, 20.43),
    (3.415, 20.415), (3.475, 20.425), (3.525, 20.41), (3.60, 20.43), (3.07, 20.455),
    (3.13, 20.445), (3.195, 20.455), (3.255, 20.445), (3.315, 20.46), (3.365, 20.45),
    (3.42, 20.46), (3.485, 20.455), (3.535, 20.47), (3.64, 20.47), (3.10, 20.49),
    (3.165, 20.495), (3.225, 20.49), (3.29, 20.50), (3.345, 20.495), (3.395, 20.49),
    (3.455, 20.50), (3.515, 20.495), (3.58, 20.50), (3.05, 20.53), (3.12, 20.525),
    (3.185, 20.535), (3.275, 20.52), (3.365, 20.53), (3.455, 20.535), (3.505, 20.525),
    (3.55, 20.52), (3.63, 20.535), (3.135, 20.57), (3.175, 20.575), (3.235, 20.56),
    (3.295, 20.57), (3.345, 20.58), (3.405, 20.56), (3.465, 20.575), (3.525, 20.57),
    (3.585, 20.575), (3.04, 20.58), (3.095, 20.61), (3.14, 20.605), (3.195, 20.615),
    (3.245, 20.60), (3.305, 20.61), (3.365, 20.615), (3.425, 20.605), (3.485, 20.615),
    (3.545, 20.61), (3.64, 20.62), (3.06, 20.65), (3.125, 20.645), (3.205, 20.655),
    (3.27, 20.645), (3.335, 20.65), (3.395, 20.645), (3.455, 20.655), (3.515, 20.645),
    (3.575, 20.655), (3.105, 20.69), (3.155, 20.685), (3.235, 20.695), (3.30, 20.69),
    (3.355, 20.685), (3.42, 20.70), (3.485, 20.69), (3.525, 20.695), (3.61, 20.69),
    (3.08, 20.725), (3.14, 20.73), (3.205, 20.735), (3.25, 20.725), (3.315, 20.73),
    (3.37, 20.725), (3.45, 20.735), (3.51, 20.73), (3.56, 20.735), (3.64, 20.74),
    (3.125, 20.765), (3.175, 20.77), (3.215, 20.765), (3.285, 20.77), (3.35, 20.77),
    (3.40, 20.765), (3.46, 20.77), (3.53, 20.77), (3.59, 20.77),
]

# Red clump centroid and the source star
clump_vi, clump_i = 3.77, 17.50
source_vi, source_i, source_vi_err = 3.375, 20.22, 0.148

# Dashed guide line through the source
guide_vi = [2.90, 3.97]
guide_i = [20.30, 20.13]

field = np.array(field_top + field_disk + field_mid + field_clump)
hst = np.array(hst_upper + hst_clump + hst_turnoff + hst_red_edge + hst_faint + hst_faint_core)

SERIF = ["Liberation Serif", "DejaVu Serif"]
WIDE_SERIF = ["DejaVu Serif"]

fig = plt.figure(figsize=(12.35, 12.58), dpi=100)
ax = fig.add_axes([0.1352, 0.1041, 0.8575, 0.8418])

ax.scatter(field[:, 0], field[:, 1], s=70, c="black", linewidths=0, zorder=2)
ax.scatter(hst[:, 0], hst[:, 1], s=16, c="#00ff00", linewidths=0, zorder=3)

ax.plot(guide_vi, guide_i, color="#8080ff", lw=2.2, dashes=(5.9, 4.6), zorder=4)
ax.plot(clump_vi, clump_i, "o", ms=24, color="red", mec="none", zorder=5)
ax.errorbar(source_vi, source_i, xerr=source_vi_err, fmt="o", ms=23, color="blue",
            mec="none", elinewidth=4, capsize=7.2, capthick=3.5, zorder=6)

ax.text(0.467, 0.926, "Red Clump", transform=ax.transAxes, color="red",
        fontsize=37, family=WIDE_SERIF, ha="left", va="baseline")
ax.text(0.467, 0.870, "Source", transform=ax.transAxes, color="blue",
        fontsize=37, family=WIDE_SERIF, ha="left", va="baseline")
ax.text(0.511, 1.017, "MOA\u2212bin\u22121", transform=ax.transAxes,
        fontsize=38, family=WIDE_SERIF, ha="center", va="baseline")

ax.set_xlim(1.151, 4.80)
ax.set_ylim(20.78, 13.80)

ax.set_xticks([2, 3, 4])
ax.set_yticks([14, 16, 18, 20])
ax.xaxis.set_minor_locator(MultipleLocator(0.2))
ax.yaxis.set_minor_locator(MultipleLocator(0.5))
ax.tick_params(which="both", direction="in", top=True, right=True, width=1.4)
ax.tick_params(which="major", length=24, labelsize=36, pad=22)
ax.tick_params(which="minor", length=11.5)
for lab in ax.get_xticklabels() + ax.get_yticklabels():
    lab.set_family(SERIF)

for sp in ax.spines.values():
    sp.set_linewidth(1.8)

ax.set_xlabel("V  \u2212  I", fontsize=37, family=SERIF, va="baseline")
ax.xaxis.set_label_coords(0.503, -0.113)
ax.set_ylabel("I", fontsize=38, family=SERIF, rotation=0, ha="center", va="center")
ax.yaxis.set_label_coords(-0.141, 0.5005)

fig.savefig("out.png", dpi=100)
